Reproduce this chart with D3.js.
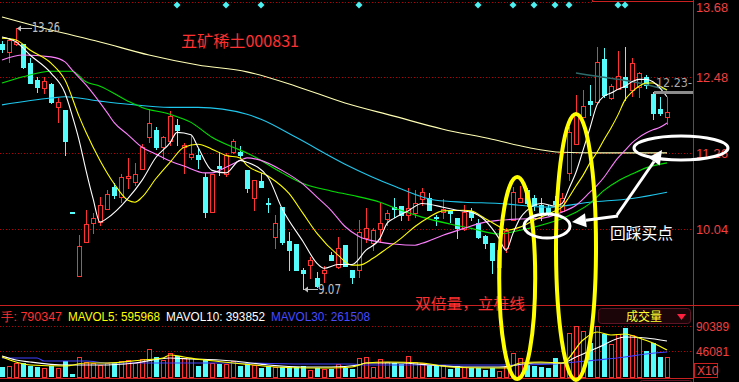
<!DOCTYPE html>
<html>
<head>
<meta charset="utf-8">
<script src="https://cdn.jsdelivr.net/npm/d3@7"></script>
<style>
html, body { margin: 0; padding: 0; background: #000; overflow: hidden; }
svg { display: block; }
</style>
</head>
<body>
<div id="target"></div>
<script>
var width = 739,
    height = 382;
var plotRight = 693;

// daily candles (96 sessions)
var openP = [13.01,12.88,13.01,13.01,12.70,12.43,12.30,12.36,11.99,11.95,
    10.31,9.28,9.83,10.13,10.15,10.36,10.71,10.55,10.85,10.79,
    11.00,11.51,11.63,11.35,11.45,11.71,11.35,11.19,11.22,10.87,
    10.31,11.05,10.92,11.27,11.27,10.98,10.53,10.81,10.45,9.91,
    10.39,9.84,9.80,9.38,9.46,9.25,9.33,9.62,9.43,9.78,
    9.39,9.38,9.89,9.81,10.04,10.20,10.39,10.41,10.26,10.29,
    10.52,10.53,10.24,10.31,10.33,10.21,10.04,10.33,10.13,9.92,
    9.81,9.43,9.73,10.18,10.47,10.66,10.53,10.42,10.37,10.49,
    10.33,10.94,11.40,11.83,12.09,12.07,12.77,12.14,12.28,12.48,
    12.27,12.32,12.48,12.20,11.96,11.83];
var highP = [13.05,13.10,13.26,13.01,12.78,12.48,12.48,12.38,12.14,11.95,
    10.32,9.94,10.34,10.29,10.55,10.66,10.77,10.92,11.18,11.10,
    11.40,11.96,11.67,11.53,11.93,11.80,11.42,11.55,11.32,10.94,
    10.92,11.27,11.26,11.48,11.37,10.98,10.82,10.94,10.53,10.26,
    10.39,9.99,9.80,9.41,9.59,9.35,9.44,9.67,9.91,9.78,
    9.39,10.18,10.37,10.05,10.45,10.34,10.53,10.41,10.69,10.66,
    10.69,10.61,10.26,10.52,10.34,10.21,10.42,10.37,10.20,9.94,
    9.81,9.78,10.05,10.71,10.73,10.69,10.58,10.53,10.42,10.57,
    10.61,11.67,12.19,12.27,12.35,12.96,12.94,12.36,12.89,12.96,
    12.78,12.56,12.51,12.24,12.16,12.16];
var lowP = [12.88,12.72,12.99,12.62,12.38,12.24,12.22,12.06,11.75,11.22,
    10.30,9.28,9.83,9.97,10.10,10.36,10.53,10.47,10.69,10.74,
    11.00,11.43,11.32,11.16,11.38,11.38,10.94,11.16,11.02,10.23,
    10.31,10.90,10.89,11.26,11.18,10.63,10.34,10.71,10.31,9.73,
    9.80,9.38,9.38,9.07,9.25,9.11,9.19,9.54,9.41,9.44,
    9.17,9.27,9.83,9.70,9.83,10.10,10.24,10.18,10.18,10.23,
    10.42,10.34,10.10,10.21,10.15,9.89,10.02,10.18,9.89,9.73,
    9.33,9.35,9.67,10.18,10.47,10.41,10.34,10.18,10.26,10.31,
    10.33,10.82,11.40,11.83,11.87,12.06,12.16,12.12,12.28,12.11,
    12.17,12.16,12.30,11.80,11.87,11.72];
var closeP = [12.93,13.07,13.04,12.64,12.38,12.32,12.41,12.07,12.07,11.45,
    10.30,9.76,10.12,10.21,10.42,10.60,10.58,10.87,10.89,10.92,
    11.35,11.74,11.35,11.51,11.85,11.63,11.38,11.24,11.16,10.31,
    10.92,11.02,11.22,11.45,11.22,10.69,10.82,10.71,10.44,10.13,
    9.83,9.70,9.38,9.33,9.55,9.12,9.39,9.55,9.73,9.44,
    9.27,9.99,10.05,10.02,10.13,10.29,10.36,10.26,10.37,10.45,
    10.63,10.34,10.21,10.36,10.29,10.05,10.31,10.23,9.91,9.81,
    9.54,9.70,10.00,10.63,10.53,10.45,10.42,10.31,10.31,10.44,
    10.53,11.59,11.90,12.01,12.04,12.72,12.19,12.33,12.49,12.32,
    12.70,12.54,12.35,11.90,11.90,11.91];
// volume, in units of 10 shares (axis says X10)
var volume = [18250,19490,25340,24810,19490,18250,15950,19490,15950,28350,
    5320,35440,26580,24810,21260,24810,24810,28350,30120,24810,
    31900,49620,35440,30120,42530,37210,33670,33670,19490,30120,
    24810,23040,23040,28350,19490,24810,21260,15950,19490,17720,
    17720,17720,17720,19490,12400,15950,14180,14180,23040,15950,
    14180,33670,35440,17720,31900,26580,24810,23040,37210,26580,
    24810,21260,19490,21260,14180,19490,17720,15950,15950,12400,
    15950,10630,17720,42530,33670,21260,19490,17720,15950,33670,
    24810,77970,90370,81510,60250,90370,76200,58480,76200,86830,
    74420,70880,46070,60250,35440,35440];

// moving averages as [session, price] read at sample points
var ma5 = [[0,13.12],[2,13.04],[4,12.83],[7,12.54],[9,12.22],[10,11.87],[11,11.47],[12,10.98],[13,10.53],[14,10.15],
    [15,10.21],[18,10.53],[20,10.82],[22,11.19],[24,11.42],[25,11.59],[27,11.55],[28,11.35],[30,10.98],[32,10.94],
    [34,11.14],[35,11.11],[38,10.87],[40,10.37],[43,9.84],[45,9.49],[46,9.41],[48,9.47],[50,9.47],[52,9.70],
    [54,9.89],[55,10.13],[56,10.21],[58,10.33],[60,10.45],[63,10.39],[65,10.34],[67,10.31],[69,10.18],[70,10.05],
    [71,9.89],[72,9.70],[73,9.97],[74,10.21],[75,10.34],[77,10.45],[79,10.41],[80,10.45],[81,10.69],[82,10.95],
    [83,11.30],[84,11.66],[85,12.03],[86,12.17],[87,12.22],[88,12.28],[89,12.33],[90,12.40],[91,12.44],[92,12.44],
    [93,12.40],[94,12.30],[95,12.16]];
var ma10 = [[0,13.10],[2,13.07],[4,12.91],[7,12.70],[9,12.43],[11,11.85],[12,11.59],[14,11.14],[16,10.77],[18,10.50],
    [19,10.47],[20,10.55],[22,10.85],[24,11.11],[26,11.35],[28,11.40],[30,11.32],[32,11.22],[34,11.18],[35,11.06],
    [38,10.89],[41,10.61],[43,10.29],[45,9.97],[48,9.62],[50,9.46],[51,9.46],[53,9.57],[55,9.73],[57,9.89],
    [59,10.08],[61,10.23],[63,10.33],[66,10.34],[67,10.33],[69,10.21],[71,10.08],[72,10.02],[74,10.07],[76,10.18],
    [79,10.33],[80,10.39],[81,10.55],[82,10.73],[83,10.90],[84,11.10],[85,11.27],[86,11.47],[87,11.66],[88,11.87],
    [89,12.11],[90,12.24],[91,12.33],[92,12.38],[93,12.38],[94,12.33],[95,12.27]];
var ma20 = [[0,12.75],[3,12.83],[7,12.80],[9,12.72],[10,12.59],[12,12.35],[15,11.91],[16,11.75],[18,11.55],[20,11.35],
    [22,11.24],[24,11.13],[26,11.05],[29,10.94],[30,10.94],[32,11.03],[34,11.14],[35,11.18],[37,11.14],[40,10.98],
    [43,10.76],[45,10.55],[47,10.34],[49,10.08],[51,9.92],[54,9.83],[56,9.80],[59,9.78],[60,9.81],[63,9.94],
    [66,10.05],[69,10.15],[71,10.18],[74,10.20],[77,10.21],[80,10.31],[82,10.42],[84,10.63],[85,10.74],[86,10.87],
    [87,11.03],[88,11.18],[89,11.30],[90,11.42],[91,11.51],[92,11.58],[93,11.63],[94,11.67],[95,11.74]];
var ma30 = [[0,12.38],[3,12.48],[7,12.57],[10,12.57],[12,12.40],[14,12.33],[18,12.09],[20,11.99],[24,11.88],[27,11.75],
    [30,11.51],[33,11.35],[35,11.26],[40,10.94],[43,10.77],[47,10.65],[50,10.58],[54,10.47],[57,10.34],[60,10.23],
    [64,10.12],[67,10.05],[71,9.96],[74,10.02],[77,10.10],[80,10.21],[82,10.31],[84,10.45],[86,10.66],[88,10.81],
    [90,10.92],[92,11.02],[95,11.10]];
var ma60 = [[0,12.03],[7,12.14],[9,12.16],[14,12.09],[18,12.04],[24,11.99],[28,11.99],[35,11.88],[37,11.80],[42,11.51],
    [49,11.08],[56,10.73],[62,10.50],[66,10.47],[71,10.45],[78,10.39],[84,10.47],[90,10.53],[95,10.63]];
var maLong = [[0,13.44],[7,13.23],[14,13.04],[21,12.83],[28,12.67],[35,12.56],[42,12.33],[49,12.06],[56,11.85],[63,11.64],
    [70,11.48],[75,11.35],[80,11.27],[85,11.26],[95,11.26]];
var maDark = [[82,12.54],[85,12.49],[88,12.44],[91,12.38],[93,12.33],[95,12.27]];

var mavol5 = [[0,35440],[4,21260],[9,19490],[12,24810],[15,24810],[20,30120],[23,33670],[24,38980],[26,35440],[29,30120],
    [33,24810],[36,21260],[39,17720],[44,15950],[47,15950],[50,17720],[52,24810],[55,26580],[60,24810],[64,17720],
    [69,15950],[72,15950],[74,24810],[77,26580],[80,24810],[83,65560],[85,79740],[87,74420],[89,76200],[91,69110],
    [93,60250],[95,47840]];
var mavol10 = [[0,37210],[2,30120],[4,26580],[9,21260],[14,21260],[19,24810],[24,33670],[27,31900],[31,30120],[33,28350],
    [38,21260],[43,17720],[47,17720],[51,21260],[52,24810],[57,24810],[61,21260],[66,17720],[71,17720],[76,24810],
    [80,24810],[82,35440],[85,51390],[89,70880],[92,69110],[95,63790]];
var mavol30 = [[0,33670],[5,33670],[6,28350],[12,28350],[15,24810],[20,24810],[33,24810],[44,23040],[50,23040],[52,21260],
    [71,21260],[79,23040],[82,26580],[85,30120],[89,35440],[92,40760],[95,44300]];

var priceTicks = [13.68, 12.48, 11.26, 10.04];
var volTicks = [90389, 46081];
var eventDays = [25, 32, 37, 51, 68, 73, 76, 79, 81, 88, 89];
var volLegendNames = ['手: ', 'MAVOL5: ', 'MAVOL10: ', 'MAVOL30: '];
var volLegendValues = ['790347', '595968', '393852', '261508'];
var volLegendColors = ['#ff3030', '#ffff00', '#ffffff', '#4a4aff'];

var RED = '#ff3232', CYAN = '#54fcfc';

var x = d3.scaleLinear().domain([0, 95]).range([2, 667]);
var y = d3.scaleLinear().domain([10.04, 13.68]).range([229, 2]);
var yv = d3.scaleLinear().domain([0, 90389]).range([377, 326]);

var svg = d3.select('#target').append('svg')
    .attr('width', width)
    .attr('height', height)
    .style('background', '#000')
    .style('font-family', '"Liberation Sans", Arial, sans-serif');

// frame lines
svg.append('line').attr('x1', plotRight + 0.5).attr('x2', plotRight + 0.5).attr('y1', 0).attr('y2', height)
    .attr('stroke', '#c82020');
svg.append('line').attr('x1', 0).attr('x2', width).attr('y1', 305.5).attr('y2', 305.5)
    .attr('stroke', '#c82020');
svg.append('line').attr('x1', 0).attr('x2', plotRight).attr('y1', 378.5).attr('y2', 378.5)
    .attr('stroke', '#c82020');
svg.append('rect').attr('x', 592.5).attr('y', -6).attr('width', plotRight - 592).attr('height', 7.5)
    .attr('fill', 'none').attr('stroke', '#c82020');

// dotted grid, price panel
svg.append('g').selectAll('line')
    .data(priceTicks)
    .enter().append('line')
    .attr('x1', 0).attr('x2', function (d) { return d === 13.68 ? 592 : plotRight; })
    .attr('y1', function (d) { return Math.round(y(d)) + 0.5; })
    .attr('y2', function (d) { return Math.round(y(d)) + 0.5; })
    .attr('stroke', '#b40000').attr('stroke-dasharray', '1,2');

// dotted grid, volume panel
svg.append('g').selectAll('line')
    .data(volTicks)
    .enter().append('line')
    .attr('x1', 0).attr('x2', plotRight)
    .attr('y1', function (d) { return Math.round(yv(d)) + 0.5; })
    .attr('y2', function (d) { return Math.round(yv(d)) + 0.5; })
    .attr('stroke', '#b40000').attr('stroke-dasharray', '1,2');

// right axes
var priceAxis = d3.axisRight(y).tickValues(priceTicks).tickSize(0).tickPadding(3)
    .tickFormat(d3.format('.2f'));
var pa = svg.append('g').attr('transform', 'translate(' + plotRight + ',0)').call(priceAxis);
pa.select('.domain').remove();
pa.selectAll('text').attr('fill', '#f04040').style('font-size', '13px')
    .attr('textLength', 32).attr('lengthAdjust', 'spacingAndGlyphs');
// top label would be clipped by the window edge, nudge it down a bit
pa.selectAll('.tick').filter(function (d) { return d === 13.68; }).select('text').attr('dy', '0.72em');

var volAxis = d3.axisRight(yv).tickValues(volTicks).tickSize(0).tickPadding(3)
    .tickFormat(d3.format('d'));
var va = svg.append('g').attr('transform', 'translate(' + plotRight + ',0)').call(volAxis);
va.select('.domain').remove();
va.selectAll('text').attr('fill', '#f04040').style('font-size', '13px')
    .attr('textLength', 33).attr('lengthAdjust', 'spacingAndGlyphs');

svg.append('rect').attr('x', 694.5).attr('y', 363.5).attr('width', 23).attr('height', 14)
    .attr('fill', 'none').attr('stroke', '#c82020');
svg.append('text').attr('x', 697).attr('y', 375).text('X10')
    .attr('fill', '#f04040').style('font-size', '12px');

// event diamonds along the top
svg.append('g').selectAll('path')
    .data(eventDays)
    .enter().append('path')
    .attr('d', function (d) {
        var cx = x(d), cy = 5;
        return 'M' + cx + ',' + (cy - 3.5) + 'L' + (cx + 3.5) + ',' + cy + 'L' + cx + ',' + (cy + 3.5) + 'L' + (cx - 3.5) + ',' + cy + 'Z';
    })
    .attr('fill', '#4cf0f0');

// candles
var days = d3.range(openP.length);
function isUp(i) { return closeP[i] >= openP[i]; }

var candles = svg.append('g').attr('shape-rendering', 'crispEdges');
candles.selectAll('line.wick')
    .data(days)
    .enter().append('line')
    .attr('class', 'wick')
    .attr('x1', function (i) { return x(i) + 0.5; })
    .attr('x2', function (i) { return x(i) + 0.5; })
    .attr('y1', function (i) { return Math.round(y(highP[i])); })
    .attr('y2', function (i) { return Math.round(y(lowP[i])) + 1; })
    .attr('stroke', function (i) { return isUp(i) ? RED : CYAN; });

candles.selectAll('rect.body')
    .data(days)
    .enter().append('rect')
    .attr('class', 'body')
    .attr('x', function (i) { return isUp(i) ? x(i) - 1.5 : x(i) - 2; })
    .attr('width', function (i) { return isUp(i) ? 4 : 5; })
    .attr('y', function (i) {
        var t = Math.round(y(Math.max(openP[i], closeP[i])));
        return isUp(i) ? t + 0.5 : t;
    })
    .attr('height', function (i) {
        var t = Math.round(y(Math.max(openP[i], closeP[i])));
        var b = Math.round(y(Math.min(openP[i], closeP[i])));
        return Math.max(isUp(i) ? b - t : b - t + 1, 1);
    })
    .attr('fill', function (i) { return isUp(i) ? '#000' : CYAN; })
    .attr('stroke', function (i) { return isUp(i) ? RED : 'none'; });

// moving average lines
var priceLine = d3.line()
    .x(function (d) { return x(d[0]); })
    .y(function (d) { return y(d[1]); })
    .curve(d3.curveMonotoneX);

var maSeries = [
    {data: maLong, color: '#ffffb4'},
    {data: maDark, color: '#2e6a6a'},
    {data: ma60, color: '#1ec8ee'},
    {data: ma30, color: '#00e000'},
    {data: ma20, color: '#ff80ff'},
    {data: ma10, color: '#ffff00'},
    {data: ma5, color: '#ffffff'}
];
svg.append('g').selectAll('path')
    .data(maSeries)
    .enter().append('path')
    .attr('d', function (d) { return priceLine(d.data); })
    .attr('fill', 'none')
    .attr('stroke', function (d) { return d.color; })
    .attr('stroke-width', function (d) { return d.data === maDark ? 1.5 : 1.1; });

// high / low markers
var hiIdx = d3.maxIndex(highP), loIdx = d3.minIndex(lowP);
var marks = svg.append('g').attr('fill', '#c0c0c0').style('font-family', '"DejaVu Sans", sans-serif');
marks.append('line').attr('x1', x(hiIdx) + 1).attr('x2', x(hiIdx) + 16)
    .attr('y1', Math.round(y(highP[hiIdx])) + 0.5).attr('y2', Math.round(y(highP[hiIdx])) + 0.5)
    .attr('stroke', '#c0c0c0');
marks.append('path').attr('d', 'M' + (x(hiIdx) + 1) + ',' + (Math.round(y(highP[hiIdx])) + 0.5) + 'l4,-3v6z');
marks.append('text').attr('x', x(hiIdx) + 16).attr('y', y(highP[hiIdx]) + 4)
    .text(d3.format('.2f')(highP[hiIdx])).style('font-size', '14px')
    .attr('textLength', 28).attr('lengthAdjust', 'spacingAndGlyphs');

marks.append('line').attr('x1', x(loIdx) + 1).attr('x2', x(loIdx) + 15)
    .attr('y1', Math.round(y(lowP[loIdx])) + 0.5).attr('y2', Math.round(y(lowP[loIdx])) + 0.5)
    .attr('stroke', '#c0c0c0');
marks.append('path').attr('d', 'M' + (x(loIdx) + 1) + ',' + (Math.round(y(lowP[loIdx])) + 0.5) + 'l4,-3v6z');
marks.append('text').attr('x', x(loIdx) + 15).attr('y', y(lowP[loIdx]) + 5)
    .text(d3.format('.2f')(lowP[loIdx])).style('font-size', '14px')
    .attr('textLength', 23).attr('lengthAdjust', 'spacingAndGlyphs');

// current price marker 12.23
var lastMark = 12.23;
svg.append('rect').attr('x', 654).attr('y', Math.round(y(lastMark)) - 1).attr('width', plotRight - 654).attr('height', 3)
    .attr('fill', '#8c8c8c');
svg.append('text').attr('x', 656).attr('y', y(lastMark) - 5).text('12.23-')
    .attr('fill', '#a8a8a8').style('font-family', '"DejaVu Sans", sans-serif').style('font-size', '13px')
    .attr('textLength', 36).attr('lengthAdjust', 'spacingAndGlyphs');

// volume bars
var vol = svg.append('g').attr('shape-rendering', 'crispEdges');
vol.selectAll('rect')
    .data(days)
    .enter().append('rect')
    .attr('x', function (i) { return isUp(i) ? x(i) - 1.5 : x(i) - 2; })
    .attr('width', function (i) { return isUp(i) ? 4 : 5; })
    .attr('y', function (i) { return Math.round(yv(volume[i])) + (isUp(i) ? 0.5 : 0); })
    .attr('height', function (i) { return yv(0) - Math.round(yv(volume[i])); })
    .attr('fill', function (i) { return isUp(i) ? '#000' : CYAN; })
    .attr('stroke', function (i) { return isUp(i) ? RED : 'none'; });

var volLine = d3.line()
    .x(function (d) { return x(d[0]); })
    .y(function (d) { return yv(d[1]); })
    .curve(d3.curveMonotoneX);
var volSeries = [
    {data: mavol30, color: '#4040ff'},
    {data: mavol10, color: '#ffffff'},
    {data: mavol5, color: '#ffff00'}
];
svg.append('g').selectAll('path')
    .data(volSeries)
    .enter().append('path')
    .attr('d', function (d) { return volLine(d.data); })
    .attr('fill', 'none')
    .attr('stroke', function (d) { return d.color; })
    .attr('stroke-width', 1.2);

// volume legend row
var legX = [1, 68, 166, 271];
var legW = [61, 92, 99, 99];
svg.append('g').selectAll('text')
    .data(volLegendNames)
    .enter().append('text')
    .attr('x', function (d, i) { return legX[i]; })
    .attr('y', 321)
    .text(function (d, i) { return d + volLegendValues[i]; })
    .attr('fill', function (d, i) { return volLegendColors[i]; })
    .style('font-size', '12px')
    .attr('textLength', function (d, i) { return legW[i]; })
    .attr('lengthAdjust', 'spacingAndGlyphs');

// 成交量 selector box
svg.append('rect').attr('x', 598.5).attr('y', 308.5).attr('width', 92).attr('height', 15).attr('rx', 3)
    .attr('fill', '#1c0508').attr('stroke', '#5e1424');
svg.append('text').attr('x', 644).attr('y', 320.5).attr('text-anchor', 'middle').text('成交量')
    .attr('fill', '#ffff30').style('font-family', '"Noto Sans CJK SC", sans-serif').style('font-size', '12px');
svg.append('path').attr('d', 'M677,314L686,314L681.5,320Z').attr('fill', '#ff2040');
svg.append('rect').attr('x', 640.5).attr('y', 380.5).attr('width', 51).attr('height', 8).attr('rx', 2)
    .attr('fill', 'none').attr('stroke', '#5e1424');

// titles and notes
var cjk = '"Noto Sans CJK SC", sans-serif';
svg.append('text').attr('x', 181).attr('y', 47).text('五矿稀土000831')
    .attr('fill', '#ff3030').style('font-family', cjk).style('font-size', '16px')
    .attr('textLength', 118).attr('lengthAdjust', 'spacingAndGlyphs');
svg.append('text').attr('x', 415).attr('y', 309).text('双倍量，立桩线')
    .attr('fill', '#ff3030').style('font-family', cjk).style('font-size', '15px')
    .attr('textLength', 110).attr('lengthAdjust', 'spacingAndGlyphs');
svg.append('text').attr('x', 610).attr('y', 239).text('回踩买点')
    .attr('fill', '#ffffff').style('font-family', cjk).style('font-size', '16px')
    .attr('textLength', 63).attr('lengthAdjust', 'spacingAndGlyphs');

// hand drawn marks: yellow ellipses around the volume days
var notes = svg.append('g').attr('fill', 'none');
notes.append('ellipse').attr('cx', x(73.6)).attr('cy', 278).attr('rx', 18).attr('ry', 101)
    .attr('stroke', '#ffff00').attr('stroke-width', 4);
notes.append('ellipse').attr('cx', x(82)).attr('cy', 247).attr('rx', 20).attr('ry', 133)
    .attr('stroke', '#ffff00').attr('stroke-width', 4);

// white ellipses: pullback point and MA target
notes.append('ellipse').attr('cx', 547).attr('cy', 226).attr('rx', 23).attr('ry', 12)
    .attr('stroke', '#ffffff').attr('stroke-width', 3);
notes.append('ellipse').attr('cx', 681).attr('cy', 148).attr('rx', 47).attr('ry', 12)
    .attr('stroke', '#ffffff').attr('stroke-width', 3);

function drawArrow(g, x1, y1, x2, y2) {
    var ang = Math.atan2(y2 - y1, x2 - x1);
    var hl = 14, hw = 7;
    var bx = x2 - hl * Math.cos(ang), by = y2 - hl * Math.sin(ang);
    g.append('line').attr('x1', x1).attr('y1', y1).attr('x2', bx).attr('y2', by)
        .attr('stroke', '#ffffff').attr('stroke-width', 3);
    g.append('path')
        .attr('d', 'M' + x2 + ',' + y2 +
            'L' + (bx + hw * Math.sin(ang)) + ',' + (by - hw * Math.cos(ang)) +
            'L' + (bx - hw * Math.sin(ang)) + ',' + (by + hw * Math.cos(ang)) + 'Z')
        .attr('fill', '#ffffff');
}
drawArrow(notes, 618, 216, 572, 222);
drawArrow(notes, 617, 215, 662, 150);
</script>
</body>
</html>
